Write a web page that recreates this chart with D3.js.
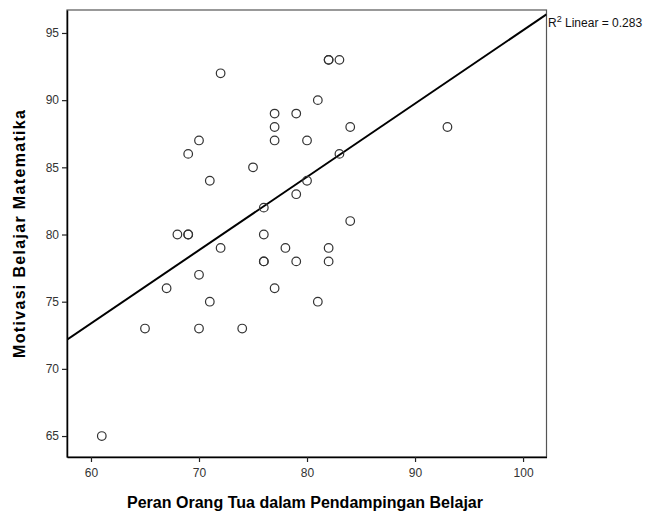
<!DOCTYPE html>
<html><head><meta charset="utf-8">
<script src="https://cdn.jsdelivr.net/npm/d3@7"></script>
<style>body{margin:0;background:#fff}svg{display:block}</style>
</head><body>
<svg id="c" width="655" height="517"></svg>
<script>
const xVals = [61,65,67,68,69,69,69,70,70,70,71,71,72,72,74,75,76,76,76,76,77,77,77,77,78,79,79,79,80,80,81,81,82,82,83,82,82,83,84,84,93];
const yVals = [65,73,76,80,80,80,86,87,77,73,84,75,92,79,73,85,82,80,78,78,89,88,87,76,79,89,83,78,87,84,90,75,93,93,93,79,78,86,88,81,88];
const xTicks = [60,70,80,90,100];
const yTicks = [65,70,75,80,85,90,95];
const xTitle = "Peran Orang Tua dalam Pendampingan Belajar";
const yTitle = "Motivasi Belajar Matematika";
const r2Label = "0.283";

const svg = d3.select("#c");
const L = 67, R = 546.5, T = 10, B = 457;
const x = d3.scaleLinear().domain([57.78, 102.17]).range([L, R]);
const y = d3.scaleLinear().domain([63.44, 96.71]).range([B, T]);

// regression from data
const n = xVals.length;
const mx = d3.mean(xVals), my = d3.mean(yVals);
let sxy = 0, sxx = 0;
for (let i = 0; i < n; i++) { sxy += (xVals[i]-mx)*(yVals[i]-my); sxx += (xVals[i]-mx)**2; }
const slope = sxy/sxx, icpt = my - slope*mx;

const font = "'Liberation Sans', Arial, sans-serif";

// frame
svg.append("rect").attr("x", L).attr("y", T).attr("width", R-L).attr("height", B-T)
  .attr("fill", "#fff").attr("stroke", "#555").attr("stroke-width", 1.2);

// axes
const gx = svg.append("g").attr("transform", `translate(0,${B})`)
  .call(d3.axisBottom(x).tickValues(xTicks).tickSize(5).tickPadding(6).tickSizeOuter(0));
const gy = svg.append("g").attr("transform", `translate(${L},0)`)
  .call(d3.axisLeft(y).tickValues(yTicks).tickSize(5).tickPadding(3).tickSizeOuter(0));
[gx, gy].forEach(g => {
  g.select(".domain").attr("stroke", "#000").attr("stroke-width", 1.5);
  g.selectAll(".tick line").attr("stroke", "#222").attr("stroke-width", 1.2);
  g.selectAll(".tick text").attr("font-family", font).attr("font-size", 12).attr("fill", "#333");
});

// clip for regression line
svg.append("clipPath").attr("id", "clp").append("rect")
  .attr("x", L).attr("y", T).attr("width", R-L).attr("height", B-T);
const d0 = x.domain();
svg.append("line").attr("clip-path", "url(#clp)")
  .attr("x1", x(d0[0])).attr("y1", y(icpt + slope*d0[0]))
  .attr("x2", x(d0[1])).attr("y2", y(icpt + slope*d0[1]))
  .attr("stroke", "#000").attr("stroke-width", 2);

// points
svg.append("g").selectAll("circle").data(xVals.map((v,i)=>[v,yVals[i]])).join("circle")
  .attr("cx", d => x(d[0])).attr("cy", d => y(d[1])).attr("r", 4.3)
  .attr("fill", "none").attr("stroke", "#333").attr("stroke-width", 1.2);

// R2 label
const t = svg.append("text").attr("x", R + 1.5).attr("y", 27)
  .attr("font-family", font).attr("font-size", 12).attr("fill", "#111");
t.append("tspan").text("R");
t.append("tspan").attr("dy", -5).attr("font-size", 9).text("2");
t.append("tspan").attr("dy", 5).text(" Linear = " + r2Label);

// titles
svg.append("text").attr("x", 305).attr("y", 508).attr("text-anchor", "middle")
  .attr("font-family", font).attr("font-weight", "bold").attr("font-size", 16).attr("fill", "#000")
  .attr("textLength", 356).attr("lengthAdjust", "spacing")
  .text(xTitle);
svg.append("text").attr("transform", `translate(25,234) rotate(-90)`).attr("text-anchor", "middle")
  .attr("font-family", font).attr("font-weight", "bold").attr("font-size", 16).attr("fill", "#000")
  .attr("textLength", 248).attr("lengthAdjust", "spacing")
  .text(yTitle);
</script>
</body></html>
